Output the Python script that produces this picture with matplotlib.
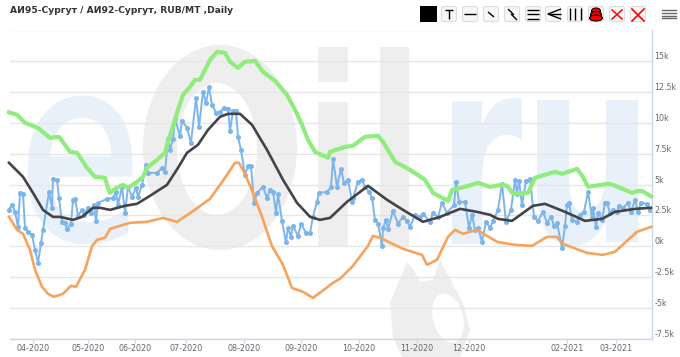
import matplotlib
matplotlib.use('Agg')
import matplotlib.pyplot as plt
from matplotlib.patches import FancyBboxPatch, PathPatch, Rectangle, Ellipse, Polygon
from matplotlib.textpath import TextPath
from matplotlib.font_manager import FontProperties
from matplotlib.transforms import Affine2D

title = 'АИ95-Сургут / АИ92-Сургут, RUB/MT ,Daily'

# position along the ordinal date axis (session axis, gaps between months are uneven)
tick_pos = [23, 78, 125, 176, 234, 291, 348.7, 406.7, 459, 556.7, 606]
tick_labels = ['04-2020', '05-2020', '06-2020', '07-2020', '08-2020', '09-2020',
               '10-2020', '11-2020', '12-2020', '02-2021', '03-2021']
y_ticks = [-7500, -5000, -2500, 0, 2500, 5000, 7500, 10000, 12500, 15000, 17500]
y_labels = ['-7.5k', '-5k', '-2.5k', '0k', '2.5k', '5k', '7.5k', '10k', '12.5k', '15k', '']

green_x = [-1, 7, 15, 28, 40, 49, 60, 67, 77, 85, 95, 97, 100, 105, 113, 118, 127, 133, 137,
           147, 155, 157, 162, 168, 173, 180, 185, 190, 195, 200, 207, 215, 220, 228, 235, 245,
           253, 265, 277, 285, 292, 298, 305, 318, 320, 335, 343, 355, 368, 373, 385, 400, 415,
           423, 438, 442, 455, 468, 480, 492, 497, 503, 518, 525, 538, 545, 552, 567, 573, 578,
           598, 603, 622, 628, 632, 641]
green_y = [10860, 10660, 10010, 9600, 8790, 8880, 7660, 7580, 6360, 5630, 5550, 4980, 4330, 4660,
           4980, 4740, 5220, 5630, 6360, 7010, 7580, 8230, 9440, 11070, 12280, 12930, 13500, 13500,
           14310, 15120, 15770, 15690, 14960, 14470, 14960, 15040, 14150, 13420, 12280, 11070, 9850,
           8630, 7660, 7170, 7660, 8060, 8150, 8880, 8960, 8470, 6850, 6200, 5390, 4330, 3680, 4580,
           4820, 5140, 4820, 4980, 4900, 4260, 4330, 5550, 5870, 6040, 5870, 6280, 5630, 4820, 5060,
           4980, 4330, 4490, 4490, 4050]

black_x = [-1, 13, 23, 33, 43, 50, 63, 72, 83, 90, 100, 115, 127, 140, 157, 168, 177, 188, 198, 210,
           218, 230, 242, 257, 273, 287, 300, 310, 320, 337, 358, 377, 393, 413, 430, 450, 467, 480,
           488, 502, 523, 535, 555, 575, 592, 605, 625, 641]
black_y = [6770, 5630, 4330, 2950, 2380, 2380, 2140, 2380, 3120, 3120, 2950, 3280, 3440, 4090, 4980,
           6360, 7580, 8230, 9440, 10500, 10740, 10740, 9850, 7820, 5390, 3520, 2390, 2140, 2300, 3600,
           4900, 3770, 2950, 1980, 2380, 3030, 2790, 2550, 2220, 2060, 3280, 3440, 2790, 2060, 2220,
           2790, 3030, 3120]

orange_x = [-1, 7, 13, 20, 25, 32, 38, 44, 53, 61, 66, 75, 82, 87, 95, 100, 120, 137, 153, 167, 182, 200,
            213, 225, 229, 235, 243, 252, 262, 273, 282, 293, 303, 315, 323, 330, 343, 358, 363, 370,
            393, 412, 417, 427, 438, 445, 453, 467, 487, 505, 522, 537, 547, 553, 577, 593, 605, 627, 641]
orange_y = [2390, 1330, 1010, -290, -1910, -3290, -3860, -4100, -3860, -3210, -3290, -1910, 0, 520, 680,
            1410, 1900, 1980, 2300, 1980, 2790, 3850, 5310, 6770, 6770, 5870, 4330, 2390, 0, -1510, -3380,
            -3700, -4190, -3460, -2970, -2640, -1590, 30, 840, 680, -210, -700, -1510, -1100, 760, 1330,
            1010, 1330, 360, 110, 30, 760, 760, 190, -540, -700, -450, 1170, 1570]

blue_x = [-1, 2, 5, 8, 10, 13, 15, 18, 22, 25, 28, 31, 33, 39, 42, 43, 47, 49, 52, 55, 57, 61, 63, 65,
          68, 72, 74, 78, 81, 84, 86, 88, 97, 103, 106, 108, 112, 115, 118, 122, 126, 128, 132, 136,
          138, 147, 152, 155, 158, 160, 163, 165, 170, 172, 177, 181, 186, 189, 193, 196, 199, 202,
          206, 210, 214, 218, 220, 223, 226, 228, 231, 235, 238, 241, 244, 247, 253, 257, 260, 263,
          266, 268, 272, 276, 278, 281, 283, 288, 291, 296, 300, 303, 307, 309, 317, 321, 323, 327,
          331, 334, 338, 342, 343, 348, 352, 355, 359, 362, 365, 368, 372, 373, 376, 378, 383, 388,
          393, 397, 400, 405, 410, 413, 420, 423, 428, 432, 437, 444, 446, 449, 455, 459, 462, 465,
          468, 472, 476, 480, 483, 488, 492, 496, 501, 505, 507, 509, 512, 516, 520, 524, 528, 533,
          537, 541, 544, 547, 552, 555, 557, 559, 562, 567, 570, 574, 578, 582, 583, 586, 588, 592,
          595, 597, 600, 603, 607, 609, 613, 618, 621, 625, 628, 631, 637, 640]
blue_y = [2950, 3360, 2790, 1570, 4330, 4250, 1490, 1170, 930, -290, -1350, 280, 1330, 4410, 3120, 5470,
          5390, 3930, 1980, 1900, 1410, 1820, 3760, 3850, 2470, 2950, 2550, 3120, 2710, 3360, 2060,
          3520, 3840, 3930, 4410, 3360, 4820, 2710, 4820, 4010, 4740, 4010, 4980, 6600, 5950, 5950,
          6360, 6040, 8710, 7820, 8710, 10340, 8960, 10170, 9600, 8390, 12040, 9690, 12530, 11630, 12930,
          11470, 10820, 10900, 11230, 11150, 9360, 10980, 10980, 8870, 7820, 5790, 6520, 6520, 3520, 4330,
          4820, 3930, 4580, 4420, 2710, 4250, 2060, 340, 1490, 760, 1650, 840, 1820, 1090, 1090, 2390,
          3600, 4340, 4410, 4820, 7090, 4820, 6280, 5140, 5390, 3600, 3930, 5220, 5390, 4820, 4420,
          3930, 2140, 1820, 30, 1490, 2140, 1410, 2870, 1820, 2390, 2060, 1570, 2550, 2390, 2630, 1980,
          2710, 2390, 3520, 2710, 3360, 5220, 3600, 3600, 1490, 2550, 1330, 1490, 360, 1980, 1490, 2060,
          2960, 5060, 1980, 2960, 5390, 4260, 5310, 3360, 5310, 5470, 2390, 2060, 2790, 1900, 2390, 1650,
          1900, -130, 1650, 3360, 3520, 2140, 1980, 2550, 2790, 4420, 2300, 3120, 1570, 2710, 2140, 3520,
          3520, 2710, 2950, 2790, 3280, 3120, 3520, 2790, 3760, 2790, 3520, 3440, 2950]

# big eOil.ru watermark: letter, colour, box in figure pixels, outline width
wm_blue = '#e8f1f9'
wm_gray = '#eeeeee'
wm_letters = [('e', wm_blue, 29, 97, 131, 243, 'normal', 2.0),
              ('r', wm_blue, 452, 98, 522, 244, 'bold', 0),
              ('u', wm_blue, 537, 100, 638, 246, 'bold', 0)]
wm_blocks = [(318, 47, 348, 82, wm_gray), (318, 102, 348, 247, wm_gray), (380, 47, 409, 247, wm_gray)]

buttons = [449, 470, 491, 512, 533, 553, 575, 596, 617, 638]

fig = plt.figure(figsize=(6.8, 3.57), dpi=100)

bg = fig.add_axes([0, 0, 1, 1], zorder=0)
bg.set_xlim(0, 680)
bg.set_ylim(357, 0)
bg.axis('off')

for ch, c, x0, y0, x1, y1, wgt, ew in wm_letters:
    tp = TextPath((0, 0), ch, size=100, prop=FontProperties(family='DejaVu Sans', weight=wgt))
    bb = tp.get_extents()
    tr = Affine2D().translate(-bb.x0, -bb.y0).scale((x1 - x0) / bb.width, -(y1 - y0) / bb.height).translate(x0, y1)
    bg.add_patch(PathPatch(tp, transform=tr + bg.transData, fc=c, ec=c if ew else 'none', lw=ew))
# the O
bg.add_patch(Ellipse((220, 147.5), 154, 205, fc=wm_gray, ec='none'))
bg.add_patch(Ellipse((217, 149), 80, 132, fc='white', ec='none'))
for x0, y0, x1, y1, c in wm_blocks:
    bg.add_patch(Rectangle((x0, y0), x1 - x0, y1 - y0, fc=c, ec='none'))
# oil drop under the letters
bg.add_patch(Polygon([(407, 262), (390, 303), (393, 337), (402, 357), (460, 357), (470, 330), (463, 303),
                      (440, 260), (433, 280), (420, 282), (412, 267)], fc=wm_gray, ec='none'))
bg.add_patch(Ellipse((448, 318), 30, 50, angle=-15, fc='white', ec='none'))

# toolbar
bg.add_patch(Rectangle((420, 6), 17, 16, fc='black', ec='none'))
for bx in buttons:
    bg.add_patch(FancyBboxPatch((bx - 7, 7), 14, 14, boxstyle='round,pad=0.5,rounding_size=2',
                                fc='#f7f7f7', ec='#dddddd', lw=0.8))
k = dict(color='black', lw=1.0, solid_capstyle='butt')
bg.plot([445, 453], [10, 10], **k)
bg.plot([449, 449], [10, 19], **k)
bg.plot([464, 476], [14, 14], **k)
bg.plot([488, 494], [12, 17], **k)
bg.plot([508, 514], [9, 15], **k)
bg.plot([511, 517], [14, 20], **k)
for yy in [10, 14, 19]:
    bg.plot([527, 539], [yy, yy], **k)
bg.plot([561, 548, 561], [9, 14, 19], **k)
bg.plot([549, 561], [14, 14], **k)
for xx in [569.5, 575, 580.5]:
    bg.plot([xx, xx], [8, 20], **k)
for yy, w in [(11, 4.5), (14.5, 5.5), (18, 6.5)]:
    bg.add_patch(Ellipse((596, yy), w * 2, 6, fc='red', ec='black', lw=0.8))
bg.plot([612, 622], [10, 19], color='red', lw=1.1)
bg.plot([612, 622], [19, 10], color='red', lw=1.1)
bg.plot([632, 644], [9, 21], color='red', lw=1.2)
bg.plot([632, 644], [21, 9], color='red', lw=1.2)
for yy in [10, 13, 15.5, 18]:
    bg.plot([662, 676], [yy, yy], color='#666666', lw=1.0)

fig.text(10 / 680, 1 - 10.5 / 357, title, fontsize=6.55, fontweight='bold', color='#333333', va='center', ha='left')

ax = fig.add_axes([10 / 680, 1 - 338.7 / 357, 641.5 / 680, 308.2 / 357], zorder=1)
ax.patch.set_alpha(0)
ax.plot(blue_x, blue_y, color='#7cb5ec', lw=1.4, marker='o', ms=2.6, zorder=2, clip_on=False)
ax.plot(orange_x, orange_y, color='#f7a35c', lw=1.9, zorder=3, clip_on=False)
ax.plot(green_x, green_y, color='#90ed7d', lw=3.0, zorder=4, clip_on=False)
ax.plot(black_x, black_y, color='#434348', lw=1.9, zorder=5, clip_on=False)

ax.set_xlim(0, 641.5)
ax.set_ylim(-7500, 17500)
ax.set_xticks(tick_pos)
ax.set_xticklabels(tick_labels, fontsize=5.8, color='#666666')
ax.set_yticks(y_ticks)
ax.set_yticklabels(y_labels, fontsize=5.7, color='#666666')
ax.yaxis.tick_right()
for lab in ax.get_yticklabels():
    lab.set_va('bottom')
ax.tick_params(axis='y', length=0, pad=2)
ax.tick_params(axis='x', length=3, width=0.8, color='#ccd6eb', pad=1)
ax.grid(axis='y', color='#e6e6e6', lw=1)
ax.set_axisbelow(True)
for s in ['top', 'left']:
    ax.spines[s].set_visible(False)
for s in ['right', 'bottom']:
    ax.spines[s].set_color('#ccd6eb')
    ax.spines[s].set_linewidth(1)

plt.savefig('out.png', dpi=100)
